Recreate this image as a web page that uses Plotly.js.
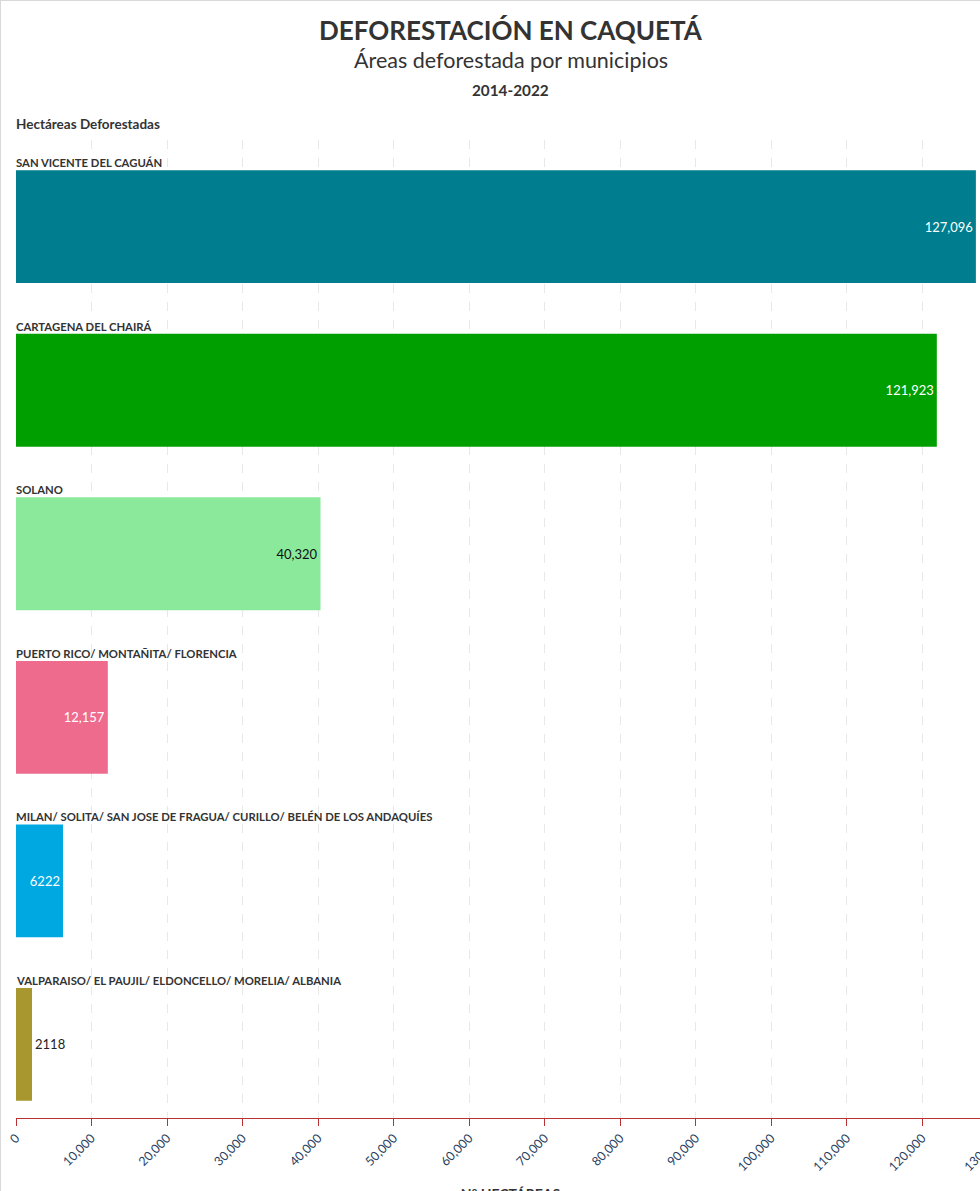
<!DOCTYPE html>
<html>
<head>
<meta charset="utf-8">
<script src="https://cdn.plot.ly/plotly-3.0.1.min.js"></script>
<style>
html, body { margin:0; padding:0; overflow:hidden; background:#fff; }
#wrap { position:absolute; left:0; top:0; border-left:1px solid #d9d9d9; border-top:1px solid #d9d9d9; }
</style>
</head>
<body>
<div id="wrap"><div id="chart"></div></div>
<script>
const municipios = [
  'SAN VICENTE DEL CAGUÁN',
  'CARTAGENA DEL CHAIRÁ',
  'SOLANO',
  'PUERTO RICO/ MONTAÑITA/ FLORENCIA',
  'MILAN/ SOLITA/ SAN JOSE DE FRAGUA/ CURILLO/ BELÉN DE LOS ANDAQUÍES',
  'VALPARAISO/ EL PAUJIL/ ELDONCELLO/ MORELIA/ ALBANIA'
];
const hectareas = [127096, 121923, 40320, 12157, 6222, 2118];
const etiquetas = ['127,096', '121,923', '40,320', '12,157', '6222', '2118'];
const colores = ['#007D8E', '#009F00', '#8BE99C', '#EE6B8E', '#00A8E1', '#A8962F'];
const ticksX = [0,10000,20000,30000,40000,50000,60000,70000,80000,90000,100000,110000,120000,130000];

const FONT = 'Source Sans Pro, Lato, sans-serif';
const idx = municipios.map((m, i) => i);

const trace = {
  type: 'bar',
  orientation: 'h',
  x: hectareas,
  y: idx,
  width: 0.69,
  marker: { color: colores, line: { width: 0 } },
  text: etiquetas,
  textposition: ['inside','inside','inside','inside','inside','outside'],
  insidetextanchor: 'end',
  textangle: 0,
  constraintext: 'none',
  cliponaxis: false,
  textfont: { family: FONT, size: 13, color: ['#ffffff','#ffffff','#111111','#ffffff','#ffffff','#222222'] },
  hoverinfo: 'none'
};

const annotations = municipios.map((m, i) => ({
  xref: 'x', yref: 'y', x: 0, y: i - 0.345,
  xanchor: 'left', yanchor: 'bottom', yshift: -1, xshift: -2,
  text: m, showarrow: false,
  font: { family: FONT, size: 11.3, color: '#333333', weight: 'bold' }
}));

const H = 1215, plotTop = 139, plotBottom = 1117;
function headerNote(text, size, yPix, anchor) {
  return { xref: 'paper', yref: 'paper', x: anchor === 'left' ? 0 : 0.5, y: 1,
    yanchor: 'middle', xanchor: anchor, yshift: plotTop - yPix,
    text: text, showarrow: false, font: { family: FONT, size: size, color: '#333333' } };
}
annotations.push(
  headerNote('<b>DEFORESTACIÓN EN CAQUETÁ</b>', 26, 29, 'center'),
  headerNote('Áreas deforestada por municipios', 21.5, 59, 'center'),
  headerNote('<b>2014-2022</b>', 15.3, 89, 'center'),
  headerNote('<b>Hectáreas Deforestadas</b>', 13.5, 123, 'left')
);
annotations[annotations.length - 1].xshift = -2;

const layout = {
  width: 1019,
  height: H,
  margin: { l: 15, r: 15, t: plotTop, b: H - plotBottom },
  paper_bgcolor: '#ffffff',
  plot_bgcolor: '#ffffff',
  showlegend: false,
  font: { family: FONT, color: '#333333' },
  bargap: 0.31,
  xaxis: {
    range: [0, 130950],
    tickvals: ticksX,
    tickformat: ',d',
    tickangle: -45,
    tickfont: { family: FONT, size: 12.5, color: '#2a3f5f' },
    showgrid: true,
    gridcolor: '#e8e8e8',
    griddash: 'dash',
    gridwidth: 1,
    zeroline: false,
    showline: true,
    linecolor: '#b83232',
    linewidth: 1,
    ticks: 'outside',
    tickcolor: '#b83232',
    ticklen: 7,
    tickwidth: 1,
    fixedrange: true,
    title: { text: '<b>Nº HECTÁREAS</b>', standoff: 16, font: { family: FONT, size: 14, color: '#333333' } }
  },
  yaxis: {
    range: [5.45, -0.53],
    showticklabels: false,
    showgrid: false,
    zeroline: false,
    showline: false,
    ticks: '',
    fixedrange: true
  },
  annotations: annotations
};

Plotly.newPlot('chart', [trace], layout, { displayModeBar: false, staticPlot: true });
</script>
</body>
</html>
